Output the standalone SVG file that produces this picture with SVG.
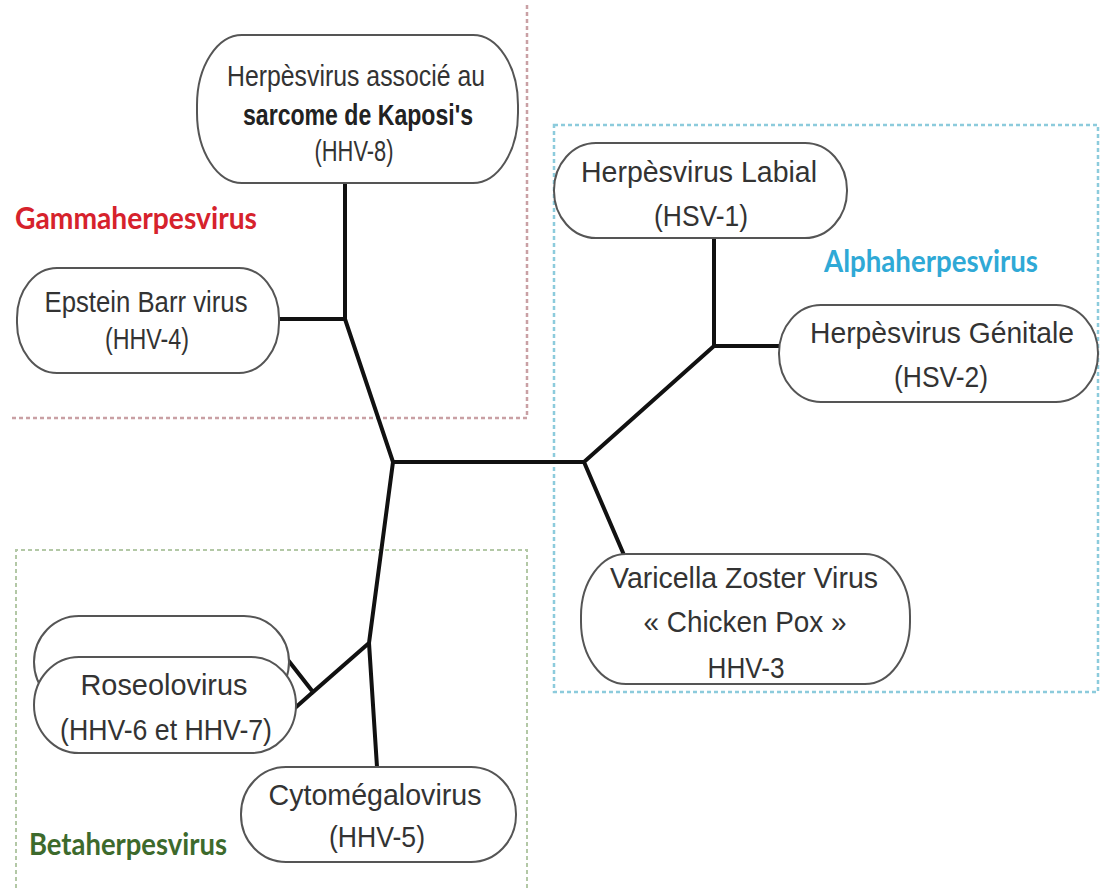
<svg xmlns="http://www.w3.org/2000/svg" width="1100" height="888" viewBox="0 0 1100 888">
<style>
.node{fill:#fff;stroke:#555;stroke-width:2}
.t{font-family:"Liberation Sans",Arial,sans-serif;font-size:29px;fill:#333;text-anchor:middle}
.b{font-weight:bold;fill:#222}
.grp{font-family:Lato,"Open Sans",sans-serif;font-weight:bold;font-size:30px}
.edge{stroke:#111;stroke-width:4;fill:none;stroke-linecap:round}
</style>
<rect width="1100" height="888" fill="#fff"/>
<g id="groups">
<path d="M527,5 V418 H10" fill="none" stroke="#c9a0a4" stroke-width="2.5" stroke-dasharray="4 3"/>
<rect x="554" y="125" width="544" height="567" fill="none" stroke="#8ccbdc" stroke-width="2.5" stroke-dasharray="4 3"/>
<path d="M16,888 V550 H527 V888" fill="none" stroke="#b3c8a6" stroke-width="2" stroke-dasharray="4 3"/>
<text class="grp" x="15" y="229" fill="#d6222c" textLength="242" lengthAdjust="spacingAndGlyphs">Gammaherpesvirus</text>
<text class="grp" x="824" y="272" fill="#2fa9d6" textLength="214" lengthAdjust="spacingAndGlyphs">Alphaherpesvirus</text>
<text class="grp" x="29" y="855" fill="#3d6a2c" textLength="198" lengthAdjust="spacingAndGlyphs">Betaherpesvirus</text>
</g>
<g id="connectors">
<path class="edge" d="M345,183 V319 M279,319 H345 L393,462 H584 L714,346 M714,238 V346 M584,462 L624,555 M393,462 L369,643 L377,767 M369,643 L313,692 L288,660 M313,692 L295,708"/>
<path class="edge" d="M714,346 H780" stroke-width="6"/>
</g>
<g id="hhv8">
<rect class="node" x="197" y="35" width="321" height="148" rx="45" ry="70"/>
<text class="t" x="356" y="86" textLength="258" lengthAdjust="spacingAndGlyphs">Herpèsvirus associé au</text>
<text class="t b" x="358" y="125" textLength="230" lengthAdjust="spacingAndGlyphs">sarcome de Kaposi's</text>
<text class="t" x="354" y="161" textLength="79" lengthAdjust="spacingAndGlyphs">(HHV-8)</text>
</g>
<g id="hhv4">
<rect class="node" x="17" y="268" width="262" height="105" rx="40" ry="50"/>
<text class="t" x="146" y="312" textLength="203" lengthAdjust="spacingAndGlyphs">Epstein Barr virus</text>
<text class="t" x="147" y="349" textLength="84" lengthAdjust="spacingAndGlyphs">(HHV-4)</text>
</g>
<g id="hsv1">
<rect class="node" x="554" y="143" width="293" height="95" rx="42" ry="47"/>
<text class="t" x="699" y="182" textLength="236" lengthAdjust="spacingAndGlyphs">Herpèsvirus Labial</text>
<text class="t" x="701" y="226" textLength="94" lengthAdjust="spacingAndGlyphs">(HSV-1)</text>
</g>
<g id="hsv2">
<rect class="node" x="779" y="305" width="319" height="97" rx="42" ry="48"/>
<text class="t" x="942" y="343" textLength="264" lengthAdjust="spacingAndGlyphs">Herpèsvirus Génitale</text>
<text class="t" x="941" y="387" textLength="94" lengthAdjust="spacingAndGlyphs">(HSV-2)</text>
</g>
<g id="hhv3">
<rect class="node" x="581" y="554" width="329" height="130" rx="45" ry="62"/>
<text class="t" x="744" y="588" textLength="268" lengthAdjust="spacingAndGlyphs">Varicella Zoster Virus</text>
<text class="t" x="745" y="632" textLength="203" lengthAdjust="spacingAndGlyphs">« Chicken Pox »</text>
<text class="t" x="746" y="678" textLength="77" lengthAdjust="spacingAndGlyphs">HHV-3</text>
</g>
<g id="roseolovirus">
<rect class="node" x="34" y="616" width="255" height="92" rx="45" ry="46"/>
<rect class="node" x="34" y="657" width="262" height="96" rx="45" ry="48"/>
<text class="t" x="164" y="695" textLength="167" lengthAdjust="spacingAndGlyphs">Roseolovirus</text>
<text class="t" x="166" y="740" textLength="212" lengthAdjust="spacingAndGlyphs">(HHV-6 et HHV-7)</text>
</g>
<g id="hhv5">
<rect class="node" x="241" y="767" width="275" height="95" rx="45" ry="47"/>
<text class="t" x="375" y="805" textLength="213" lengthAdjust="spacingAndGlyphs">Cytomégalovirus</text>
<text class="t" x="377" y="847" textLength="96" lengthAdjust="spacingAndGlyphs">(HHV-5)</text>
</g>
</svg>
